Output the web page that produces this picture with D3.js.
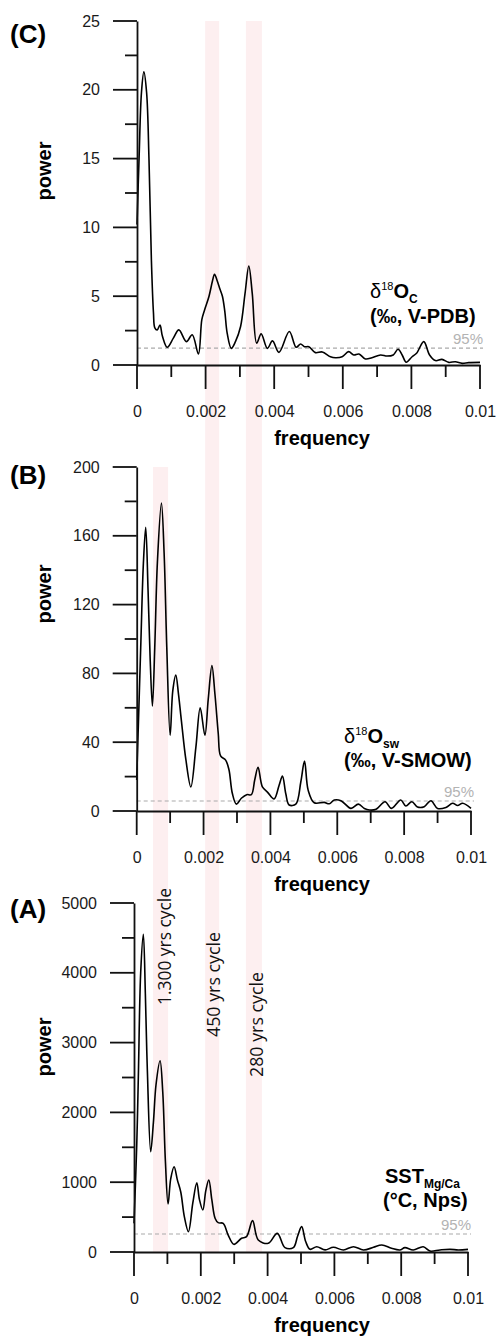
<!DOCTYPE html>
<html>
<head>
<meta charset="utf-8">
<script src="https://cdnjs.cloudflare.com/ajax/libs/d3/7.8.5/d3.min.js"></script>
<style>
  body { margin: 0; background: #fff; }
  svg { display: block; font-family: "Liberation Sans", Arial, sans-serif; }
</style>
</head>
<body>
<svg id="chart" width="496" height="1336"></svg>
<script>
// spectra: frequency (1/yr) and power
var cFreq = [0, 0.00006, 0.00013, 0.0002, 0.00028, 0.00035, 0.00042, 0.00048, 0.00052, 0.00059, 0.00067, 0.00074, 0.00088,
  0.00106, 0.00122, 0.00144, 0.00161, 0.00179, 0.00189, 0.00197, 0.0021, 0.0022, 0.00226, 0.00234, 0.00242, 0.00249, 0.00256,
  0.00263, 0.00275, 0.00287, 0.00302, 0.00315, 0.00326, 0.00336, 0.00349, 0.00362, 0.0038, 0.00395, 0.00414, 0.00444,
  0.00464, 0.00477, 0.00488, 0.00501, 0.0052, 0.0054, 0.00564, 0.00579, 0.00598, 0.00617, 0.00632, 0.00647, 0.00666,
  0.00685, 0.0071, 0.00729, 0.00747, 0.00761, 0.00773, 0.00785, 0.00802, 0.00815, 0.00836, 0.00853, 0.0087, 0.00889,
  0.00909, 0.00928, 0.00948, 0.00967, 0.01];
var cPower = [10.2, 15, 19.8, 21.3, 19.8, 14.9, 7.6, 3.8, 2.7, 2.55, 2.9, 2.1, 1.29,
  1.95, 2.55, 1.7, 2.2, 0.8, 3.3, 4.0, 5.0, 6.1, 6.6, 6.1, 5.5, 5.0, 3.9,
  2.3, 1.21, 1.7, 2.8, 5.2, 7.2, 5.2, 1.58, 2.26, 1.21, 1.75, 0.92, 2.43,
  1.29, 1.53, 1.33, 1.33, 0.9, 0.95, 0.6, 0.53, 0.6, 0.97, 0.73, 0.8, 0.44,
  0.53, 0.73, 0.65, 0.73, 1.14, 0.73, 0.2, 0.6, 0.85, 1.7, 0.73, 0.32, 0.41,
  0.19, 0.24, 0.12, 0.17, 0.19];

var bFreq = [0, 0.00012, 0.0002, 0.00027, 0.00034, 0.0004, 0.00047, 0.00054, 0.00062, 0.00074, 0.00082, 0.0009, 0.001,
  0.00108, 0.00117, 0.00125, 0.00134, 0.00147, 0.00162, 0.00177, 0.0019, 0.00204, 0.00214, 0.00225, 0.00234, 0.00244,
  0.00251, 0.00266, 0.00276, 0.00286, 0.00298, 0.00313, 0.00329, 0.00343, 0.00353, 0.00363, 0.00376, 0.00391, 0.00411,
  0.00426, 0.00436, 0.00446, 0.00456, 0.00476, 0.00491, 0.00502, 0.00513, 0.00531, 0.00561, 0.00576, 0.00591, 0.00611,
  0.00641, 0.00663, 0.00681, 0.00696, 0.00716, 0.00743, 0.00762, 0.0079, 0.00805, 0.00823, 0.0084, 0.0086, 0.0088,
  0.009, 0.00925, 0.00945, 0.0096, 0.00975, 0.01];
var bPower = [18, 95, 144, 165, 128, 90, 61, 95, 145, 179, 150, 95, 44,
  70, 79, 68, 52, 30, 14, 37, 60, 44, 65, 84.5, 68, 45,
  32, 29.6, 24, 10.3, 4, 7.4, 9.5, 9.5, 18, 25.4, 14, 11, 7,
  15, 20.3, 10, 3.5, 4, 17, 29, 12, 4.8, 5, 4.2, 6.4, 6,
  1.5, 4, 1.5, 0.6, 1, 5.4, 1.5, 6.4, 2.9, 5.4, 2.3, 2.5, 6,
  1.5, 2.1, 4.5, 3.2, 4.5, 1.5];

var aFreq = [0, 0.00008, 0.00013, 0.0002, 0.00028, 0.00034, 0.0004, 0.0005, 0.00058, 0.00066, 0.00078, 0.00086, 0.00094,
  0.00102, 0.0011, 0.0012, 0.0013, 0.0014, 0.00151, 0.00163, 0.00176, 0.00188, 0.00196, 0.00206, 0.00215, 0.00224,
  0.00233, 0.00243, 0.00252, 0.00267, 0.00282, 0.00299, 0.00322, 0.00337, 0.00355, 0.00372, 0.00402, 0.00429, 0.00452,
  0.00477, 0.0049, 0.00502, 0.00514, 0.00527, 0.00547, 0.00572, 0.00597, 0.00627, 0.00657, 0.00687, 0.00717, 0.00742,
  0.00771, 0.00796, 0.00811, 0.00836, 0.00866, 0.00886, 0.00916, 0.00946, 0.00971, 0.01];
var aPower = [410, 1500, 2510, 4000, 4550, 3700, 2600, 1437, 1850, 2400, 2740, 2300, 1300,
  688, 1050, 1222, 1030, 860, 500, 291, 700, 993, 750, 602, 880, 1031,
  750, 480, 420, 410, 243, 110, 196, 220, 449, 172, 124, 267, 62,
  62, 230, 363, 150, 38, 76, 30, 67, 29, 76, 29, 67, 100,
  53, 29, 62, 29, 76, 14, 29, 38, 29, 38];

// axis ticks
var xTicks = [0, 0.002, 0.004, 0.006, 0.008, 0.01];
var xTickLabels = ["0", "0.002", "0.004", "0.006", "0.008", "0.01"];
var xMinor = [0.001, 0.003, 0.005, 0.007, 0.009];
var cTicks = [0, 5, 10, 15, 20, 25];
var cMinor = [2.5, 7.5, 12.5, 17.5, 22.5];
var bTicks = [0, 40, 80, 120, 160, 200];
var bMinor = [20, 60, 100, 140, 180];
var aTicks = [0, 1000, 2000, 3000, 4000, 5000];
var aMinor = [500, 1500, 2500, 3500, 4500];

// 95% confidence levels
var cSig = 1.23, bSig = 5.8, aSig = 258;

// cycle bands (frequency ranges on panel A scale)
var bandLo = [0.00057, 0.00213, 0.00335];
var bandHi = [0.00102, 0.00255, 0.00383];
var bandLabels = ["1.300 yrs cycle", "450 yrs cycle", "280 yrs cycle"];

var svg = d3.select("#chart");

var panels = [
  { tag: "(C)", tagY: 43, freq: cFreq, power: cPower, ticks: cTicks, minor: cMinor, sig: cSig,
    left: 137, right: 480, top: 21, bottom: 365, powerY: 171,
    line1: { x: 370, y: 298, base: "O", sub: "C", iso: true }, line2: "(‰, V-PDB)", line2X: 370, line2Y: 323 },
  { tag: "(B)", tagY: 484, freq: bFreq, power: bPower, ticks: bTicks, minor: bMinor, sig: bSig,
    left: 136.7, right: 471, top: 467, bottom: 811, powerY: 594,
    line1: { x: 344, y: 743, base: "O", sub: "sw", iso: true }, line2: "(‰, V-SMOW)", line2X: 344, line2Y: 767 },
  { tag: "(A)", tagY: 918, freq: aFreq, power: aPower, ticks: aTicks, minor: aMinor, sig: aSig,
    left: 134, right: 468, top: 903, bottom: 1252, powerY: 1047,
    line1: { x: 385, y: 1183, base: "SST", sub: "Mg/Ca", iso: false }, line2: "(°C, Nps)", line2X: 383, line2Y: 1207 }
];

panels.forEach(function(p) {
  p.x = d3.scaleLinear().domain([0, 0.01]).range([p.left, p.right]);
  p.y = d3.scaleLinear().domain([0, d3.max(p.ticks)]).range([p.bottom, p.top]);
});

// shaded bands run through all panels
var xA = panels[2].x;
var bandTop = [panels[1].y(200), panels[0].y(25), panels[0].y(25)];
svg.append("g").selectAll("rect")
  .data(bandLo)
  .enter()
  .append("rect")
  .attr("x", function(d) { return xA(d); })
  .attr("width", function(d, i) { return xA(bandHi[i]) - xA(d); })
  .attr("y", function(d, i) { return bandTop[i]; })
  .attr("height", function(d, i) { return panels[2].y(0) - bandTop[i]; })
  .attr("fill", "#fdeff0");

function styleAxis(g) {
  g.attr("font-size", 16).attr("font-family", "'Liberation Sans', Arial, sans-serif");
  g.selectAll("path").attr("stroke", "#111").attr("stroke-width", 1.8);
  g.selectAll("text").attr("fill", "#1a1a1a");
}

panels.forEach(function(p) {
  var g = svg.append("g");

  // dashed 95% level
  g.append("line")
    .attr("x1", p.x(0)).attr("x2", p.x(0.01) + 3)
    .attr("y1", p.y(p.sig)).attr("y2", p.y(p.sig))
    .attr("stroke", "#aaa").attr("stroke-width", 1.2)
    .attr("stroke-dasharray", "4,3");
  g.append("text")
    .attr("x", p.x(0.01) + 3).attr("y", p.y(p.sig) - 4)
    .attr("text-anchor", "end").attr("font-size", 15)
    .attr("fill", "#b3b3b3").text("95%");

  // spectrum
  var pts = p.freq.map(function(f, i) { return [f, p.power[i]]; });
  var line = d3.line()
    .x(function(d) { return p.x(d[0]); })
    .y(function(d) { return p.y(d[1]); })
    .curve(d3.curveCatmullRom.alpha(0.5));
  g.append("path").datum(pts)
    .attr("d", line)
    .attr("fill", "none").attr("stroke", "#000").attr("stroke-width", 1.6);

  // axes with labels
  var yAxis = g.append("g").attr("transform", "translate(" + p.left + ",0)");
  yAxis.call(d3.axisLeft(p.y).tickValues(p.ticks).tickSize(0).tickPadding(37).tickFormat(d3.format("d")));
  styleAxis(yAxis);
  var xAxis = g.append("g").attr("transform", "translate(0," + p.bottom + ")");
  xAxis.call(d3.axisBottom(p.x).tickValues(xTicks).tickSize(0).tickPadding(41)
    .tickFormat(function(d, i) { return xTickLabels[i]; }));
  styleAxis(xAxis);

  // axis titles
  g.append("text")
    .attr("x", 322).attr("y", p.bottom + 80)
    .attr("text-anchor", "middle").attr("font-size", 20).attr("font-weight", "bold")
    .text("frequency");
  g.append("text")
    .attr("transform", "translate(51," + p.powerY + ") rotate(-90)")
    .attr("text-anchor", "middle").attr("font-size", 20).attr("font-weight", "bold")
    .text("power");

  // panel tag
  g.append("text")
    .attr("x", 10).attr("y", p.tagY)
    .attr("font-size", 26).attr("font-weight", "bold")
    .text(p.tag);

  // series label
  var t = g.append("text").attr("x", p.line1.x).attr("y", p.line1.y)
    .attr("font-size", 20).attr("font-weight", "bold");
  if (p.line1.iso) {
    t.append("tspan").attr("font-weight", "normal").text("δ");
    t.append("tspan").attr("font-weight", "normal").attr("font-size", 11).attr("dy", -8).text("18");
    t.append("tspan").attr("dy", 8).text(p.line1.base);
  } else {
    t.append("tspan").text(p.line1.base);
  }
  t.append("tspan").attr("font-size", 12).attr("dy", 5).text(p.line1.sub);
  g.append("text").attr("x", p.line2X).attr("y", p.line2Y)
    .attr("font-size", 20).attr("font-weight", "bold")
    .text(p.line2);
});

// cycle labels (panel A), rotated along the bands
var bandTextX = [171, 220, 263];
var bandTextBottom = [1005, 1037, 1077];
var bandTextLen = [117, 105, 105];
svg.append("g").selectAll("text")
  .data(bandLabels)
  .enter()
  .append("text")
  .attr("transform", function(d, i) { return "translate(" + bandTextX[i] + "," + bandTextBottom[i] + ") rotate(-90)"; })
  .attr("font-family", "'Open Sans', sans-serif")
  .attr("font-size", 18)
  .attr("textLength", function(d, i) { return bandTextLen[i]; })
  .attr("lengthAdjust", "spacingAndGlyphs")
  .attr("fill", "#111")
  .text(function(d) { return d; });

// tick marks drawn last, as thin filled bars placed by the scales
var tickLayer = svg.append("g").attr("fill", "#111");
panels.forEach(function(p) {
  var yt = p.ticks.map(function(v) { return { v: v, len: 24 }; })
    .concat(p.minor.map(function(v) { return { v: v, len: 12 }; }));
  tickLayer.append("g").selectAll("rect")
    .data(yt)
    .enter()
    .append("rect")
    .attr("x", function(d) { return p.left - d.len; })
    .attr("y", function(d) { return p.y(d.v) - 0.9; })
    .attr("width", function(d) { return d.len; })
    .attr("height", 1.8);
  var xt = xTicks.map(function(v) { return { v: v, len: 24 }; })
    .concat(xMinor.map(function(v) { return { v: v, len: 12 }; }));
  tickLayer.append("g").selectAll("rect")
    .data(xt)
    .enter()
    .append("rect")
    .attr("x", function(d) { return p.x(d.v) - 0.9; })
    .attr("y", p.bottom)
    .attr("width", 1.8)
    .attr("height", function(d) { return d.len; });
});
</script>
</body>
</html>
